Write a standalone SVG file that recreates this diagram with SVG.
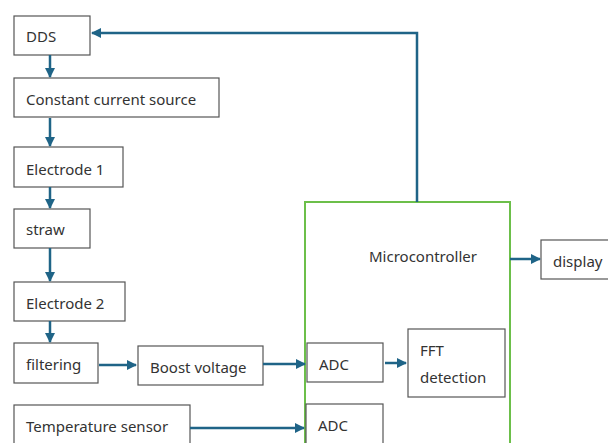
<svg xmlns="http://www.w3.org/2000/svg" width="608" height="443" viewBox="0 0 608 443">
  <style>
    .box { fill: #fff; stroke: #555; stroke-width: 1.2; }
    .mcu { fill: none; stroke: #6cbf4a; stroke-width: 2; }
    .lbl { font-family: "Noto Sans", "DejaVu Sans", sans-serif; font-size: 15px; fill: #333; }
    .wire { fill: none; stroke: #1f6487; stroke-width: 2.5; }
  </style>
  <defs>
    <marker id="arrow" viewBox="0 0 10 10" refX="9" refY="5" markerWidth="4" markerHeight="4" orient="auto" markerUnits="strokeWidth">
      <path d="M0,0 L10,5 L0,10 z" fill="#1f6487"/>
    </marker>
  </defs>
  <rect width="608" height="443" fill="#fff"/>

  <g id="microcontroller">
    <rect class="mcu" x="305" y="202" width="205" height="260"/>
    <text class="lbl" x="369" y="262">Microcontroller</text>
  </g>
  <g id="dds">
    <rect class="box" x="14" y="16" width="76" height="39"/>
    <text class="lbl" x="26" y="42">DDS</text>
  </g>
  <g id="ccs">
    <rect class="box" x="14" y="78" width="205" height="39"/>
    <text class="lbl" x="26" y="105">Constant current source</text>
  </g>
  <g id="electrode1">
    <rect class="box" x="14" y="147" width="109" height="40"/>
    <text class="lbl" x="26" y="175">Electrode 1</text>
  </g>
  <g id="straw">
    <rect class="box" x="14" y="209" width="76" height="39"/>
    <text class="lbl" x="26" y="235">straw</text>
  </g>
  <g id="electrode2">
    <rect class="box" x="14" y="282" width="111" height="39"/>
    <text class="lbl" x="26" y="309">Electrode 2</text>
  </g>
  <g id="filtering">
    <rect class="box" x="14" y="343" width="84" height="40"/>
    <text class="lbl" x="26" y="370">filtering</text>
  </g>
  <g id="boost">
    <rect class="box" x="138" y="346" width="125" height="39"/>
    <text class="lbl" x="150" y="373">Boost voltage</text>
  </g>
  <g id="temp">
    <rect class="box" x="14" y="405" width="176" height="50"/>
    <text class="lbl" x="26" y="432">Temperature sensor</text>
  </g>
  <g id="adc1">
    <rect class="box" x="307" y="343" width="76" height="39"/>
    <text class="lbl" x="319" y="370">ADC</text>
  </g>
  <g id="fft">
    <rect class="box" x="408" y="329" width="97" height="68"/>
    <text class="lbl" x="420" y="356">FFT</text>
    <text class="lbl" x="420" y="383">detection</text>
  </g>
  <g id="adc2">
    <rect class="box" x="306" y="404" width="77" height="50"/>
    <text class="lbl" x="318" y="431">ADC</text>
  </g>
  <g id="display">
    <rect class="box" x="541" y="240" width="75" height="39"/>
    <text class="lbl" x="553" y="267">display</text>
  </g>

  <g id="connectors">
    <path class="wire" d="M50,55 V77" marker-end="url(#arrow)"/>
    <path class="wire" d="M50,118 V146" marker-end="url(#arrow)"/>
    <path class="wire" d="M50,187 V208" marker-end="url(#arrow)"/>
    <path class="wire" d="M50,248 V281" marker-end="url(#arrow)"/>
    <path class="wire" d="M50,321 V342" marker-end="url(#arrow)"/>
    <path class="wire" d="M99,365 H136" marker-end="url(#arrow)"/>
    <path class="wire" d="M263,364 H305" marker-end="url(#arrow)"/>
    <path class="wire" d="M385,363 H406" marker-end="url(#arrow)"/>
    <path class="wire" d="M190,428 H304" marker-end="url(#arrow)"/>
    <path class="wire" d="M510,259 H540" marker-end="url(#arrow)"/>
    <path class="wire" d="M417,202 V33 H92" marker-end="url(#arrow)"/>
  </g>
</svg>
